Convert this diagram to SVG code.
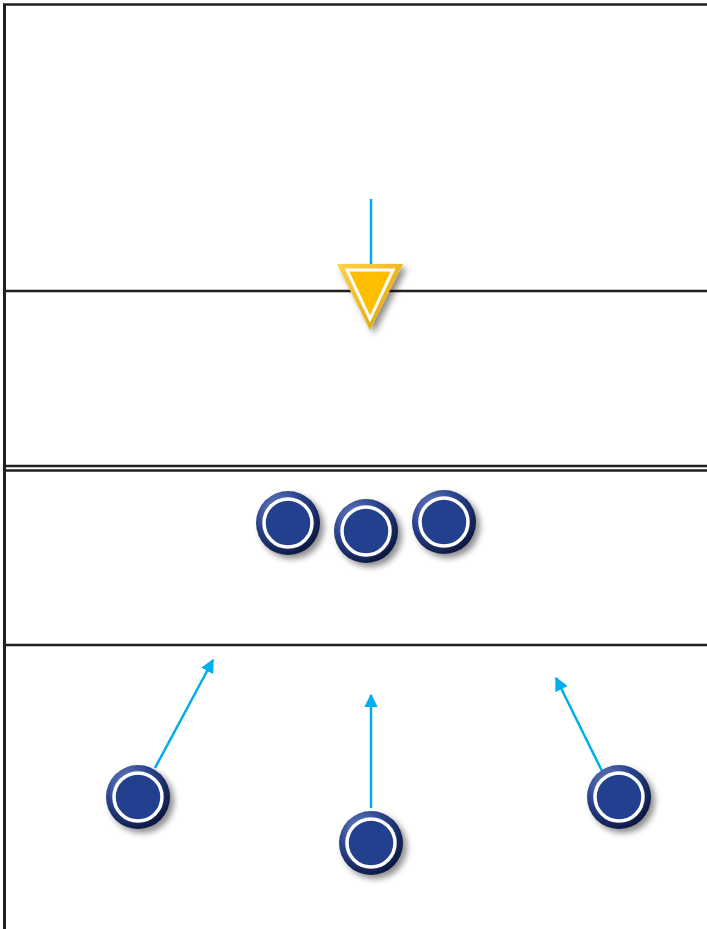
<svg xmlns="http://www.w3.org/2000/svg" width="707" height="929" viewBox="0 0 707 929">
<defs>
<style>
.fl{stroke:#231f20;fill:none}
.ar{stroke:#00aeef;stroke-width:2.5;fill:none;marker-end:url(#ah)}
.rim{fill:url(#rg)}
.core{fill:#24408e;stroke:#fff;stroke-width:3.5}
</style>
<radialGradient id="rg" cx="0.35" cy="0.3" r="0.75">
<stop offset="0" stop-color="#7288c6"/>
<stop offset="0.5" stop-color="#2c4590"/>
<stop offset="1" stop-color="#0b163d"/>
</radialGradient>
<linearGradient id="tg" x1="0" y1="0" x2="1" y2="1">
<stop offset="0" stop-color="#ffd24a"/>
<stop offset="1" stop-color="#e0a000"/>
</linearGradient>
<filter id="sh" x="-30%" y="-30%" width="170%" height="170%">
<feGaussianBlur in="SourceAlpha" stdDeviation="3"/>
<feOffset dx="4" dy="4"/>
<feComponentTransfer><feFuncA type="linear" slope="0.45"/></feComponentTransfer>
<feMerge><feMergeNode/><feMergeNode in="SourceGraphic"/></feMerge>
</filter>
<marker id="ah" viewBox="0 0 10 10" refX="9" refY="5" markerWidth="5.5" markerHeight="5.5" orient="auto" markerUnits="strokeWidth">
<path d="M0,0 L10,5 L0,10 z" fill="#00aeef"/>
</marker>
<g id="pl">
<circle r="32" class="rim"/>
<circle r="24" class="core"/>
</g>
</defs>
<rect width="707" height="929" fill="#fff"/>
<g id="field">
<line class="fl" x1="4.5" y1="929" x2="4.5" y2="4" stroke-width="3"/>
<line class="fl" x1="3" y1="4.5" x2="707" y2="4.5" stroke-width="2.5"/>
<line class="fl" x1="4" y1="291" x2="707" y2="291" stroke-width="2.5"/>
<line class="fl" x1="4" y1="466" x2="707" y2="466" stroke-width="2.5"/>
<line class="fl" x1="4" y1="470.5" x2="707" y2="470.5" stroke-width="2.5"/>
<line class="fl" x1="4" y1="645" x2="707" y2="645" stroke-width="2.5"/>
</g>
<g id="connectors">
<line x1="371" y1="199" x2="371" y2="266" stroke="#00aeef" stroke-width="2.5"/>
<line class="ar" x1="155" y1="768" x2="213" y2="660"/>
<line class="ar" x1="371" y1="808" x2="371" y2="695"/>
<line class="ar" x1="602" y1="771" x2="556" y2="678"/>
</g>
<g id="defender" filter="url(#sh)">
<polygon points="337,264 403,264 370,330" fill="url(#tg)"/>
<polygon points="347,270 393,270 370,319" fill="#ffbe00" stroke="#fff" stroke-width="3" stroke-linejoin="miter"/>
</g>
<g id="p1" filter="url(#sh)"><use href="#pl" x="288" y="523"/></g>
<g id="p2" filter="url(#sh)"><use href="#pl" x="366" y="531"/></g>
<g id="p3" filter="url(#sh)"><use href="#pl" x="444" y="522"/></g>
<g id="p4" filter="url(#sh)"><use href="#pl" x="138" y="797"/></g>
<g id="p5" filter="url(#sh)"><use href="#pl" x="371" y="843"/></g>
<g id="p6" filter="url(#sh)"><use href="#pl" x="619" y="797"/></g>
</svg>
